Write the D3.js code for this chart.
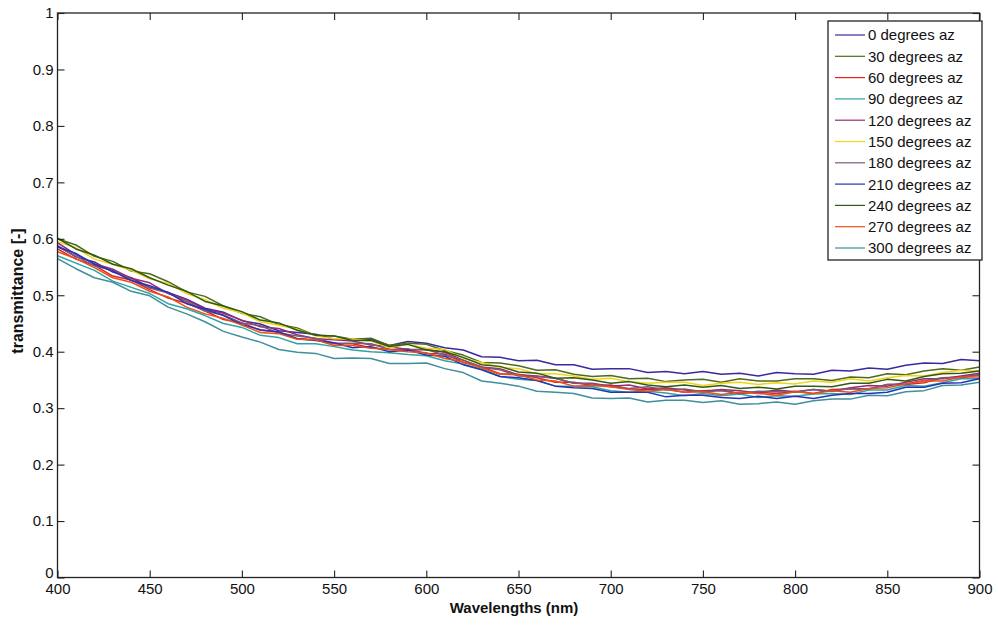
<!DOCTYPE html>
<html>
<head>
<meta charset="utf-8">
<script src="https://cdn.jsdelivr.net/npm/d3@7/dist/d3.min.js"></script>
<style>
html,body{margin:0;padding:0;background:#fff;}
svg{display:block;}
</style>
</head>
<body>
<svg id="chart" width="998" height="628"></svg>
<script>
// ---------------- DATA ----------------
const wavelengths = [400,410,420,430,440,450,460,470,480,490,500,510,520,530,540,550,560,570,580,590,600,610,620,630,640,650,660,670,680,690,700,710,720,730,740,750,760,770,780,790,800,810,820,830,840,850,860,870,880,890,900];

const seriesNames = ["0 degrees az","30 degrees az","60 degrees az","90 degrees az","120 degrees az","150 degrees az","180 degrees az","210 degrees az","240 degrees az","270 degrees az","300 degrees az"];
const seriesColors = ["#3a2a9c","#4d6b1e","#e3241c","#2fa3a8","#9a2a78","#f2d21a","#7a5a78","#2434b4","#2f5c12","#e8501a","#3f8f9c"];

const az0   = [.588,.568,.559,.541,.531,.514,.505,.493,.477,.470,.455,.449,.437,.434,.431,.422,.421,.422,.411,.418,.415,.407,.403,.391,.390,.384,.385,.377,.377,.369,.370,.370,.363,.365,.361,.365,.360,.362,.357,.363,.361,.360,.367,.366,.371,.369,.376,.380,.379,.386,.384];
const az30  = [.600,.589,.569,.560,.543,.538,.524,.506,.498,.481,.468,.462,.448,.442,.429,.428,.422,.424,.411,.415,.413,.402,.394,.381,.380,.375,.367,.368,.360,.356,.358,.352,.353,.347,.350,.351,.346,.352,.348,.348,.352,.352,.349,.355,.354,.361,.359,.366,.370,.367,.373];
const az60  = [.582,.564,.553,.534,.527,.510,.495,.486,.472,.457,.451,.438,.435,.423,.421,.414,.414,.407,.404,.405,.397,.396,.381,.373,.361,.360,.354,.346,.346,.340,.341,.334,.333,.334,.328,.331,.332,.326,.328,.326,.330,.326,.333,.334,.334,.342,.342,.345,.354,.355,.359];
const az90  = [.570,.557,.544,.525,.514,.503,.485,.476,.464,.450,.443,.429,.425,.414,.414,.409,.403,.400,.398,.395,.393,.384,.378,.369,.356,.351,.349,.339,.339,.338,.331,.328,.330,.327,.322,.326,.322,.325,.319,.322,.321,.325,.326,.324,.332,.332,.340,.339,.345,.352,.352];
const az120 = [.593,.572,.556,.546,.530,.522,.503,.492,.475,.468,.456,.444,.441,.430,.423,.421,.419,.412,.409,.404,.404,.399,.385,.373,.370,.359,.357,.353,.344,.344,.339,.341,.334,.336,.332,.329,.333,.331,.327,.332,.329,.333,.330,.336,.340,.339,.346,.352,.352,.357,.362];
const az150 = [.595,.584,.564,.555,.544,.529,.521,.503,.492,.477,.469,.453,.447,.440,.428,.423,.422,.419,.407,.413,.406,.404,.388,.381,.372,.370,.361,.361,.357,.351,.353,.347,.344,.346,.346,.340,.344,.346,.342,.345,.343,.348,.346,.352,.348,.354,.358,.357,.363,.367,.366];
const az180 = [.586,.569,.552,.544,.527,.513,.504,.489,.472,.465,.451,.446,.433,.428,.424,.415,.415,.414,.404,.403,.404,.394,.385,.372,.368,.357,.356,.353,.344,.343,.338,.335,.338,.332,.334,.329,.331,.326,.330,.329,.328,.333,.330,.335,.334,.342,.343,.349,.354,.354,.359];
const az210 = [.586,.574,.555,.543,.526,.517,.505,.485,.475,.464,.448,.439,.435,.423,.420,.416,.407,.409,.400,.403,.394,.392,.377,.368,.356,.354,.349,.339,.336,.335,.328,.328,.328,.320,.323,.323,.319,.317,.321,.317,.321,.317,.323,.326,.326,.328,.337,.337,.344,.345,.352];
const az240 = [.601,.582,.571,.555,.547,.531,.518,.507,.489,.481,.471,.456,.451,.438,.429,.428,.420,.420,.409,.413,.403,.400,.390,.377,.374,.364,.362,.353,.354,.350,.344,.347,.341,.338,.341,.337,.340,.335,.337,.334,.339,.339,.338,.344,.344,.351,.348,.356,.361,.362,.366];
const az270 = [.577,.565,.549,.531,.523,.507,.497,.479,.467,.459,.447,.434,.432,.422,.421,.411,.411,.406,.404,.400,.398,.388,.382,.371,.360,.359,.350,.348,.339,.340,.338,.333,.330,.333,.328,.329,.324,.328,.326,.323,.329,.326,.331,.328,.335,.336,.343,.348,.348,.355,.355];
const az300 = [.565,.547,.531,.523,.507,.499,.479,.467,.453,.436,.426,.417,.404,.399,.397,.388,.389,.388,.379,.379,.380,.370,.363,.348,.344,.339,.330,.328,.326,.318,.317,.318,.311,.314,.314,.310,.313,.307,.308,.311,.307,.313,.316,.316,.323,.322,.329,.331,.340,.341,.346];

const seriesValues = [az0,az30,az60,az90,az120,az150,az180,az210,az240,az270,az300];

const xTicks = [400,450,500,550,600,650,700,750,800,850,900];
const yTicks = [0,0.1,0.2,0.3,0.4,0.5,0.6,0.7,0.8,0.9,1];
const yTickLabels = ["0","0.1","0.2","0.3","0.4","0.5","0.6","0.7","0.8","0.9","1"];

const xLabel = "Wavelengths (nm)";
const yLabel = "transmittance [-]";

// ---------------- DRAW ----------------
const svg = d3.select("#chart");
const L = 57.5, R = 979.5, T = 13, B = 577.5;
const x = d3.scaleLinear().domain([400, 900]).range([L, R]);
const y = d3.scaleLinear().domain([0, 1]).range([B, T]);
const font = "'Liberation Sans', Arial, Helvetica, sans-serif";

svg.append("rect").attr("width", 998).attr("height", 628).attr("fill", "#fff");

// curves
const line = d3.line().x((d, i) => x(wavelengths[i])).y(d => y(d));
const curves = svg.append("g");
seriesValues.forEach((vals, k) => {
  curves.append("path")
    .datum(vals)
    .attr("d", line)
    .attr("fill", "none")
    .attr("stroke", seriesColors[k])
    .attr("stroke-width", 1.5)
    .attr("stroke-linejoin", "round");
});

// axes
function styleAxis(g) {
  g.select(".domain").remove();
  g.selectAll(".tick line").attr("stroke", "#222").attr("stroke-width", 1.1);
  g.selectAll(".tick text").attr("fill", "#111").style("font-family", font).style("font-size", "15px");
}
svg.append("g").attr("transform", `translate(0,${B})`)
  .call(d3.axisBottom(x).tickValues(xTicks).tickFormat(d3.format("d")).tickSizeInner(-7).tickSizeOuter(0).tickPadding(6))
  .call(styleAxis);
const yAxisG = svg.append("g").attr("transform", `translate(${L},0)`)
  .call(d3.axisLeft(y).tickValues(yTicks).tickFormat((d, i) => yTickLabels[i]).tickSizeInner(-7).tickSizeOuter(0).tickPadding(4))
  .call(styleAxis);
yAxisG.selectAll(".tick text").filter(d => d === 0).attr("y", -5);
svg.append("g").attr("transform", `translate(0,${T})`)
  .call(d3.axisTop(x).tickValues(xTicks).tickFormat("").tickSizeInner(-7).tickSizeOuter(0))
  .call(styleAxis);
svg.append("g").attr("transform", `translate(${R},0)`)
  .call(d3.axisRight(y).tickValues(yTicks).tickFormat("").tickSizeInner(-7).tickSizeOuter(0))
  .call(styleAxis);

// frame
svg.append("rect").attr("x", L).attr("y", T).attr("width", R - L).attr("height", B - T)
  .attr("fill", "none").attr("stroke", "#222").attr("stroke-width", 1.3);

// axis labels
svg.append("text").attr("x", 514).attr("y", 613).attr("text-anchor", "middle")
  .style("font-family", font).style("font-size", "15px").style("font-weight", "bold").attr("fill", "#111")
  .text(xLabel);
svg.append("text").attr("transform", "translate(23,291) rotate(-90)").attr("text-anchor", "middle")
  .style("font-family", font).style("font-size", "16px").style("font-weight", "bold").attr("fill", "#111")
  .text(yLabel);

// legend
const lg = svg.append("g");
const lgX = 828, lgY = 21, lgW = 154, lgH = 239, rowH = 21.3, row0 = 35;
lg.append("rect").attr("x", lgX).attr("y", lgY).attr("width", lgW).attr("height", lgH)
  .attr("fill", "#fff").attr("stroke", "#222").attr("stroke-width", 1.3);
seriesNames.forEach((name, k) => {
  const yy = row0 + k * rowH;
  lg.append("line").attr("x1", 835).attr("x2", 865).attr("y1", yy).attr("y2", yy)
    .attr("stroke", seriesColors[k]).attr("stroke-width", 1.2);
  lg.append("text").attr("x", 868).attr("y", yy).attr("dy", "0.36em")
    .style("font-family", font).style("font-size", "15px").attr("fill", "#111")
    .text(name);
});
</script>
</body>
</html>
